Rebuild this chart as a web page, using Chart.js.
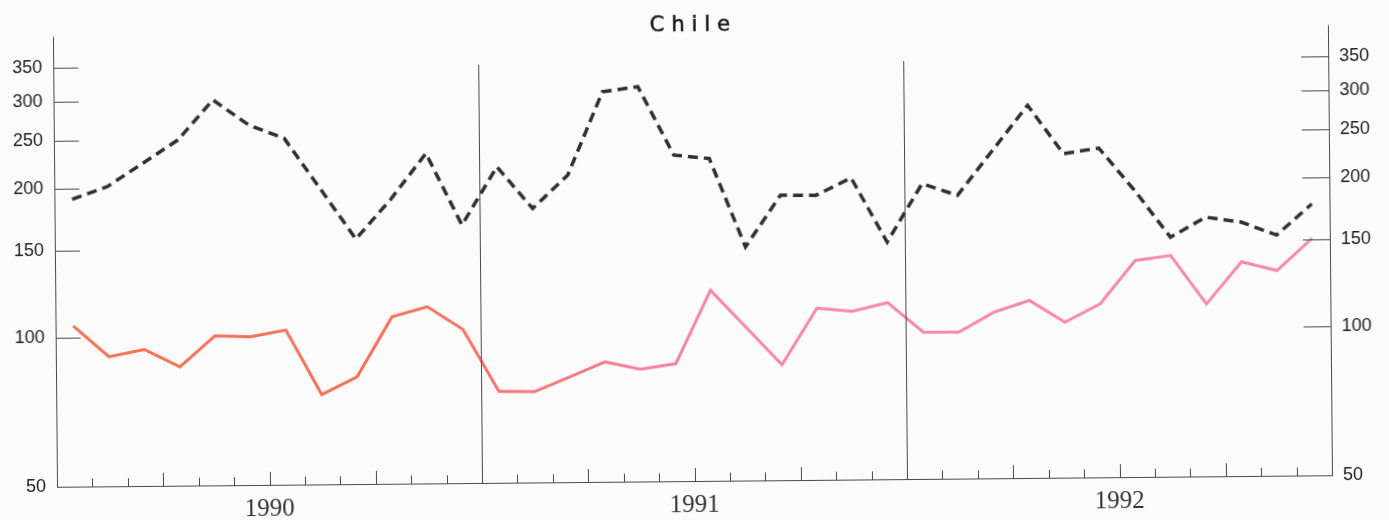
<!DOCTYPE html>
<html>
<head>
<meta charset="utf-8">
<script src="https://cdn.jsdelivr.net/npm/chart.js@4.4.1/dist/chart.umd.min.js"></script>
<style>
html,body{margin:0;padding:0;background:#fbfbfb;overflow:hidden;}
#wrap{width:1389px;height:520px;position:relative;transform:translateY(1px) rotate(-0.52deg);transform-origin:50% 50%;}
</style>
</head>
<body>
<div id="wrap"><canvas id="c"></canvas></div>
<script>
const months = [
  'Jan 1990','Feb 1990','Mar 1990','Apr 1990','May 1990','Jun 1990','Jul 1990','Aug 1990','Sep 1990','Oct 1990','Nov 1990','Dec 1990',
  'Jan 1991','Feb 1991','Mar 1991','Apr 1991','May 1991','Jun 1991','Jul 1991','Aug 1991','Sep 1991','Oct 1991','Nov 1991','Dec 1991',
  'Jan 1992','Feb 1992','Mar 1992','Apr 1992','May 1992','Jun 1992','Jul 1992','Aug 1992','Sep 1992','Oct 1992','Nov 1992','Dec 1992'
];
const years = ['1990', '1991', '1992'];
const redSeries = [
  105.5, 91.3, 94.3, 86.9, 100.2, 99.6, 102.6, 75.9, 82.3, 108.6, 113.7, 102.2,
  76.5, 76.2, 81.5, 87.3, 84.3, 86.3, 121.3, 101.8, 85.5, 111.1, 109.3, 113.6,
  98.9, 98.8, 108.2, 114.1, 103.0, 112.0, 136.8, 139.8, 111.4, 135.4, 129.8, 150.6
];
const blackSeries = [
  190.1, 201.4, 224.1, 249.4, 300.0, 266.7, 250.3, 198.0, 156.2, 187.8, 231.9, 166.0,
  217.2, 178.7, 208.4, 306.5, 313.4, 227.6, 223.7, 148.1, 188.1, 187.7, 203.2, 150.6,
  197.2, 186.6, 229.7, 282.7, 225.4, 231.0, 189.5, 152.2, 166.8, 162.8, 153.1, 176.6
];
const yTickValues = [50, 100, 150, 200, 250, 300, 350];
const chartTitle = 'Chile';

const AXIS_COLOR = '#4a4a4a';

function redGradient(context) {
  const chart = context.chart;
  const area = chart.chartArea;
  if (!area) return '#f47a5a';
  const g = chart.ctx.createLinearGradient(area.left, 0, area.right, 0);
  g.addColorStop(0, '#f3704f');
  g.addColorStop(0.30, '#f3725a');
  g.addColorStop(0.40, '#f47a86');
  g.addColorStop(0.52, '#f585ab');
  g.addColorStop(1, '#f68bb1');
  return g;
}

const decorPlugin = {
  id: 'decor',
  afterDraw(chart) {
    const ctx = chart.ctx;
    const area = chart.chartArea;
    const xs = chart.scales.x;
    const ys = chart.scales.y;
    ctx.save();
    ctx.strokeStyle = AXIS_COLOR;
    ctx.lineWidth = 1;
    // y ticks, pointing inwards on both sides
    yTickValues.forEach(v => {
      const py = Math.round(ys.getPixelForValue(v)) + 0.5;
      ctx.beginPath();
      ctx.moveTo(area.left, py); ctx.lineTo(area.left + 25, py);
      ctx.moveTo(area.right - 27, py); ctx.lineTo(area.right, py);
      ctx.stroke();
    });
    // month boundary ticks and year separators
    for (let k = 1; k < months.length; k++) {
      const px = Math.round((xs.getPixelForValue(k - 1) + xs.getPixelForValue(k)) / 2) + 0.5;
      ctx.beginPath();
      if (k % 12 === 0) {
        ctx.moveTo(px, area.bottom); ctx.lineTo(px, area.top + 32);
      } else if (k % 3 === 0) {
        ctx.moveTo(px, area.bottom); ctx.lineTo(px, area.bottom - 13);
      } else {
        ctx.moveTo(px, area.bottom); ctx.lineTo(px, area.bottom - 8);
      }
      ctx.stroke();
    }
    // title
    ctx.fillStyle = '#161616';
    ctx.strokeStyle = '#161616';
    ctx.lineWidth = 0.5;
    ctx.font = '21px "DejaVu Sans"';
    if ('letterSpacing' in ctx) ctx.letterSpacing = '7px';
    ctx.textAlign = 'center';
    ctx.textBaseline = 'middle';
    ctx.fillText(chartTitle, chart.width / 2 + 1, 25);
    ctx.strokeText(chartTitle, chart.width / 2 + 1, 25);
    ctx.restore();
  }
};

const yCommon = {
  type: 'logarithmic',
  min: 50,
  max: 405,
  afterBuildTicks(s) { s.ticks = yTickValues.map(v => ({ value: v })); },
  grid: { display: false, drawTicks: false },
  border: { display: true, color: AXIS_COLOR, width: 1 },
  ticks: {
    callback: v => String(v),
    color: '#222',
    font: { family: '"Liberation Sans", Arial, sans-serif', size: 18 },
    padding: 11,
    autoSkip: false
  }
};

new Chart(document.getElementById('c'), {
  type: 'line',
  data: {
    labels: months,
    datasets: [
      {
        label: 'black',
        data: blackSeries,
        yAxisID: 'y',
        xAxisID: 'x',
        borderColor: '#303030',
        borderWidth: 3.5,
        borderDash: [10, 6],
        pointRadius: 0,
        tension: 0,
        fill: false
      },
      {
        label: 'red',
        data: redSeries,
        yAxisID: 'y',
        xAxisID: 'x',
        borderColor: redGradient,
        borderWidth: 3,
        pointRadius: 0,
        tension: 0,
        fill: false
      }
    ]
  },
  options: {
    responsive: true,
    maintainAspectRatio: false,
    animation: false,
    layout: { padding: { top: 30, left: 0, right: 0, bottom: 0 } },
    plugins: { legend: { display: false }, tooltip: { enabled: false }, title: { display: false } },
    scales: {
      x: {
        type: 'category',
        offset: true,
        position: 'bottom',
        grid: { display: false, drawTicks: false },
        border: { display: true, color: AXIS_COLOR, width: 1 },
        ticks: { display: false },
        afterFit(s) { s.height = 0; }
      },
      x2: {
        type: 'category',
        labels: years,
        offset: true,
        position: 'bottom',
        grid: { display: false, drawTicks: false },
        border: { display: false },
        ticks: {
          color: '#333',
          font: { family: '"Liberation Serif", serif', size: 25 },
          padding: 9,
          maxRotation: 0
        },
        afterFit(s) { s.height = 40; }
      },
      y: Object.assign({}, yCommon, { position: 'left', afterFit(s) { s.width = 55; } }),
      y2: Object.assign({}, yCommon, { position: 'right', afterFit(s) { s.width = 59; } })
    }
  },
  plugins: [decorPlugin]
});
</script>
</body>
</html>
